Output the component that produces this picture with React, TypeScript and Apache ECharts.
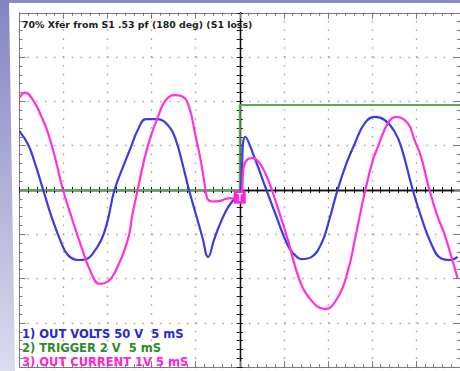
import React, { useEffect, useRef } from "react";
import * as echarts from "echarts";

// time in ms (5 ms/div, trigger at 0), amplitude in screen divisions
const TITLE = "70% Xfer from S1 .53 pf (180 deg) (S1 loss)";
const NAME_VOLTS = "1) OUT VOLTS 50 V  5 mS";
const NAME_TRIG = "2) TRIGGER 2 V  5 mS";
const NAME_CURR = "3) OUT CURRENT 1V 5 mS";

const voltsT = [-25.0, -24.01, -23.25, -22.31, -21.37, -20.24, -19.49, -18.36, -17.42, -16.82, -15.72, -14.98, -14.22, -13.09, -12.33, -11.59, -10.64, -9.37, -8.01, -7.26, -6.51, -5.76, -5.0, -4.26, -3.58, -2.93, -2.37, -1.61, -0.87, -0.11, 0.11, 0.64, 1.77, 2.9, 4.03, 5.53, 6.66, 7.03, 8.16, 9.29, 10.05, 11.1, 12.11, 13.06, 14.19, 15.32, 16.44, 17.57, 18.32, 19.64, 20.58, 21.71, 22.83, 23.96, 24.72];
const voltsV = [1.33, 1.02, 0.61, 0, -0.6, -1.2, -1.47, -1.58, -1.56, -1.47, -1.13, -0.68, 0, 0.6, 0.98, 1.35, 1.6, 1.6, 1.43, 1.13, 0.6, 0, -0.53, -1.05, -1.51, -1.13, -0.83, -0.49, -0.26, -0.11, 0, 1.2, 0.68, 0.07, -0.53, -1.28, -1.54, -1.56, -1.51, -1.2, -0.75, 0, 0.6, 1.05, 1.51, 1.65, 1.58, 1.32, 0.98, 0, -0.6, -1.2, -1.54, -1.58, -1.51];

const currT = [-25.0, -24.38, -23.25, -22.5, -21.75, -20.99, -20.06, -19.11, -17.98, -16.85, -15.91, -14.98, -14.22, -12.72, -12.16, -11.59, -10.46, -9.14, -8.39, -7.45, -6.51, -5.76, -5.0, -4.44, -4.06, -3.69, -3.13, -2.37, -1.24, -0.3, 0.11, 0.45, 0.82, 1.39, 2.14, 2.9, 3.65, 4.77, 5.53, 6.66, 7.79, 9.67, 11.17, 12.3, 13.06, 14.25, 15.12, 15.69, 16.82, 17.75, 19.07, 19.83, 20.58, 21.53, 22.46, 23.21, 24.72];
const currV = [2.09, 2.2, 1.96, 1.65, 1.28, 0.75, 0, -0.6, -1.28, -1.88, -2.12, -2.07, -1.88, -1.13, -0.53, 0, 0.98, 1.73, 2.03, 2.14, 2.11, 1.88, 1.2, 0.68, 0.23, -0.19, -0.26, -0.25, -0.19, -0.19, -0.19, 0.53, 0.68, 0.72, 0.64, 0.38, 0, -0.68, -1.17, -1.96, -2.41, -2.69, -2.41, -1.81, -1.13, 0, 0.68, 0.98, 1.51, 1.65, 1.51, 1.13, 0.75, 0, -0.6, -0.98, -1.99];

const trigT = [-25, 0, 0, 25];
const trigV = [0, 0, 1.92, 1.92];

const TRIG_MARK: [number, number] = [0, -0.16];

const BLUE = "#3c3ce0";
const MAGENTA = "#ff30e0";
const GREEN = "#58a858";

const zip = (a: number[], b: number[]) => a.map((v, i) => [v, b[i]]);

export default function App() {
  const ref = useRef<HTMLDivElement>(null);
  useEffect(() => {
    if (!ref.current) return;
    const chart = echarts.init(ref.current, null, { renderer: "svg" });
    const dark = "#111";
    const border = "#7a7a7a";
    const dotted = { color: "#a8a8a8", width: 1.4, type: [1.6, 7.26] as any, dashOffset: 0.8 };

    const xCommon = { type: "value", min: -25, max: 25, interval: 5, axisLabel: { show: false }, splitLine: { show: false } };
    const yCommon = { type: "value", min: -4, max: 4, interval: 1, axisLabel: { show: false }, splitLine: { show: false } };

    const centerAxis = (pos: string, split: boolean) => ({
      position: pos,
      axisLine: { show: true, onZero: true, onZeroAxisIndex: 0, lineStyle: { color: dark, width: 1.3 } },
      axisTick: { show: true, length: 3, lineStyle: { color: dark, width: 1 } },
      minorTick: { show: true, splitNumber: 5, length: 3, lineStyle: { color: dark, width: 1 } },
      splitLine: split ? { show: true, lineStyle: dotted } : { show: false },
    });
    const borderAxis = (pos: string) => ({
      position: pos,
      axisLine: { show: true, onZero: false, lineStyle: { color: border, width: 1 } },
      axisTick: { show: true, inside: true, length: 6, lineStyle: { color: border, width: 1 } },
      minorTick: { show: true, splitNumber: 5, length: 3, lineStyle: { color: border, width: 1 } },
    });

    chart.setOption({
      animation: false,
      backgroundColor: "#ffffff",
      title: {
        text: TITLE,
        left: 22,
        top: 20,
        padding: 0,
        textStyle: { fontSize: 9.4, fontWeight: "bold", fontFamily: "DejaVu Sans", color: "#222" },
      },
      legend: {
        orient: "vertical",
        left: 17,
        top: 328,
        padding: 0,
        itemWidth: 0,
        itemHeight: 11,
        itemGap: 2,
        icon: "rect",
        selectedMode: false,
        textStyle: { fontSize: 11.5, fontWeight: "bold", fontFamily: "DejaVu Sans" },
        data: [
          { name: NAME_VOLTS, textStyle: { color: "#2828d8" } },
          { name: NAME_TRIG, textStyle: { color: "#2e8b2e" } },
          { name: NAME_CURR, textStyle: { color: "#ff22dd" } },
        ],
      },
      graphic: [
        { type: "rect", shape: { x: 0, y: 0, width: 460, height: 3 }, style: { fill: "#8a8ac6" }, z: 0 },
        {
          type: "polygon",
          shape: { points: [[0, 0], [9, 0], [15, 371], [0, 371]] },
          style: {
            fill: new echarts.graphic.LinearGradient(0, 0, 0, 1, [
              { offset: 0, color: "#8484c2" },
              { offset: 1, color: "#dcdcf0" },
            ]),
          },
          z: 0,
        },
      ],
      grid: { left: 19.5, top: 12.8, width: 443, height: 354.4, containLabel: false },
      xAxis: [
        { ...xCommon, ...centerAxis("bottom", true) },
        { ...xCommon, ...centerAxis("top", false) },
        { ...xCommon, ...borderAxis("top") },
        { ...xCommon, ...borderAxis("bottom") },
      ],
      yAxis: [
        { ...yCommon, ...centerAxis("left", true) },
        { ...yCommon, ...centerAxis("right", false) },
        { ...yCommon, ...borderAxis("left") },
        { ...yCommon, ...borderAxis("right") },
      ],
      series: [
        {
          name: NAME_VOLTS,
          type: "line",
          xAxisIndex: 0,
          yAxisIndex: 0,
          data: zip(voltsT, voltsV),
          showSymbol: false,
          smooth: 0.45,
          lineStyle: { color: BLUE, width: 2.2 },
          itemStyle: { color: BLUE },
          z: 3,
        },
        {
          name: NAME_TRIG,
          type: "line",
          xAxisIndex: 0,
          yAxisIndex: 0,
          data: zip(trigT, trigV),
          showSymbol: false,
          lineStyle: { color: GREEN, width: 2 },
          itemStyle: { color: GREEN },
          z: 2,
        },
        {
          name: NAME_CURR,
          type: "line",
          xAxisIndex: 0,
          yAxisIndex: 0,
          data: zip(currT, currV),
          showSymbol: false,
          smooth: 0.45,
          lineStyle: { color: MAGENTA, width: 2.2 },
          itemStyle: { color: MAGENTA },
          z: 4,
          markPoint: {
            silent: true,
            data: [
              {
                coord: TRIG_MARK,
                symbol: "rect",
                symbolSize: [12, 13],
                itemStyle: { color: "#ff22dd" },
                label: { show: true, formatter: "T", color: "#fff", fontWeight: "bold", fontSize: 10, position: "inside" },
              },
            ],
          },
        },
      ],
    });
    return () => chart.dispose();
  }, []);
  return <div ref={ref} style={{ position: "absolute", left: 0, top: 0, width: 460, height: 371, background: "#fff" }} />;
}
